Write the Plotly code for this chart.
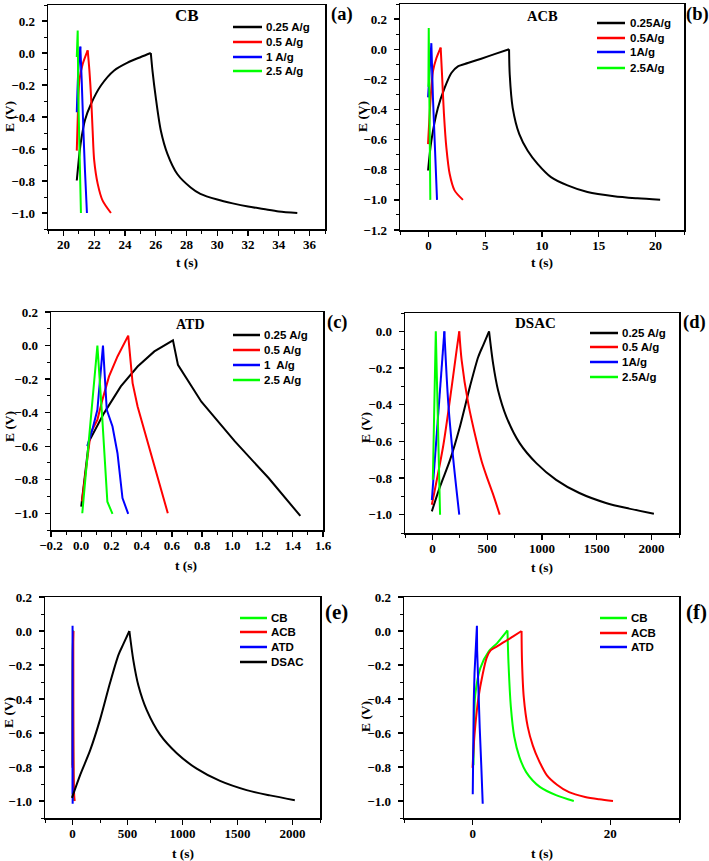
import plotly.graph_objects as go

W, H = 709, 861

# ---------------- data ----------------
# (a) CB
a_t_025 = [20.87, 21.04, 21.15, 21.4, 21.8, 22.44, 23.3, 24.17, 25.03, 25.68, 25.8, 26.0, 26.33, 26.76, 27.4, 28.27, 28.9, 30.0, 31.0, 32.0, 33.0, 34.0, 35.2]
a_E_025 = [-0.797, -0.63, -0.547, -0.42, -0.317, -0.203, -0.109, -0.06, -0.025, 0.0, -0.12, -0.276, -0.484, -0.63, -0.756, -0.84, -0.88, -0.916, -0.94, -0.96, -0.975, -0.99, -1.0]
a_t_05 = [20.87, 20.95, 21.04, 21.26, 21.58, 21.69, 21.8, 21.9, 22.0, 22.23, 22.55, 23.09]
a_E_05 = [-0.61, -0.35, -0.17, -0.067, 0.017, -0.109, -0.276, -0.484, -0.67, -0.818, -0.923, -1.0]
a_t_1 = [20.87, 20.97, 21.1, 21.19, 21.3, 21.4, 21.53]
a_E_1 = [-0.37, -0.11, 0.04, -0.17, -0.48, -0.73, -1.0]
a_t_25 = [20.87, 20.93, 20.97, 21.04, 21.1, 21.14]
a_E_25 = [-0.025, 0.14, -0.276, -0.59, -0.8, -1.0]

# (b) ACB
b_t_025 = [-0.03, 0.26, 0.84, 1.43, 2.02, 2.6, 3.47, 4.65, 5.82, 7.1, 7.16, 7.42, 8.0, 8.74, 9.61, 10.79, 12.25, 14.0, 16.34, 18.4, 20.4]
b_E_025 = [-0.805, -0.608, -0.389, -0.257, -0.158, -0.114, -0.092, -0.063, -0.033, 0.0, -0.17, -0.389, -0.564, -0.674, -0.761, -0.849, -0.904, -0.948, -0.976, -0.99, -1.0]
b_t_05 = [-0.03, 0.2, 0.4, 0.7, 1.08, 1.2, 1.37, 1.58, 1.87, 2.3, 3.04]
b_E_05 = [-0.63, -0.32, -0.147, -0.06, 0.011, -0.169, -0.432, -0.652, -0.827, -0.937, -1.0]
b_t_1 = [-0.03, 0.26, 0.4, 0.55, 0.76]
b_E_1 = [-0.32, 0.04, -0.32, -0.65, -1.0]
b_t_25 = [0.0, 0.03, 0.17]
b_E_25 = [-0.25, 0.14, -1.0]

# (c) ATD
c_t_025 = [0.0, 0.051, 0.151, 0.262, 0.373, 0.484, 0.607, 0.64, 0.795, 1.017, 1.24, 1.45]
c_E_025 = [-0.96, -0.572, -0.403, -0.244, -0.125, -0.035, 0.031, -0.115, -0.335, -0.572, -0.79, -1.016]
c_t_05 = [0.005, 0.062, 0.107, 0.14, 0.184, 0.24, 0.311, 0.34, 0.373, 0.44, 0.507, 0.573]
c_E_05 = [-0.93, -0.522, -0.443, -0.324, -0.184, -0.065, 0.059, -0.224, -0.364, -0.582, -0.801, -1.0]
c_t_1 = [0.04, 0.073, 0.107, 0.144, 0.169, 0.207, 0.24, 0.273, 0.311]
c_E_1 = [-0.6, -0.503, -0.383, 0.0, -0.383, -0.483, -0.642, -0.91, -1.004]
c_t_25 = [0.007, 0.107, 0.14, 0.173, 0.207]
c_E_25 = [-1.0, 0.0, -0.443, -0.931, -1.004]

# (d) DSAC
d_t_025 = [-5, 70, 161, 251, 342, 418, 463, 517, 554, 599, 675, 796, 948, 1129, 1341, 1583, 1795, 2021]
d_E_025 = [-0.982, -0.846, -0.701, -0.52, -0.303, -0.14, -0.076, 0.0, -0.176, -0.321, -0.466, -0.61, -0.719, -0.81, -0.882, -0.936, -0.967, -0.995]
d_t_05 = [-5, 100, 176, 221, 245, 267, 327, 403, 450, 494, 560, 614]
d_E_05 = [-0.946, -0.62, -0.303, -0.103, 0.0, -0.158, -0.393, -0.6, -0.71, -0.79, -0.9, -1.0]
d_t_1 = [-5, 109, 145, 191, 245]
d_E_1 = [-0.92, 0.0, -0.393, -0.701, -1.0]
d_t_25 = [4, 31, 70]
d_E_25 = [-0.81, 0.0, -1.0]

# (e)/(f) comparison at 0.25 A/g
f_t_cb = [0.1, 0.2, 0.35, 1.09, 2.33, 3.56, 5.05, 5.2, 5.54, 6.04, 6.78, 7.77, 9.75, 12.2, 14.7]
f_E_cb = [-0.79, -0.55, -0.38, -0.22, -0.12, -0.071, 0.003, -0.19, -0.445, -0.622, -0.74, -0.83, -0.917, -0.967, -1.0]

rate_labels_a = ["0.25 A/g", "0.5 A/g", "1 A/g", "2.5 A/g"]
rate_labels_b = ["0.25A/g", "0.5A/g", "1A/g", "2.5A/g"]
rate_labels_c = ["0.25 A/g", "0.5 A/g", "1  A/g", "2.5 A/g"]
rate_labels_d = ["0.25 A/g", "0.5 A/g", "1A/g", "2.5A/g"]
sample_labels_e = ["CB", "ACB", "ATD", "DSAC"]
sample_labels_f = ["CB", "ACB", "ATD"]

BLACK, RED, BLUE, GREEN = "#000000", "#ff0000", "#0000ff", "#00ff00"
rate_colors = [BLACK, RED, BLUE, GREEN]

# ---------------- figure ----------------
fig = go.Figure()


def xd(x0, x1):
    return [x0 / W, x1 / W]


def yd(top, bottom):
    return [1 - bottom / H, 1 - top / H]


def px(x):
    return x / W


def py(y):
    return 1 - y / H


panels = [
    dict(series=[(a_t_025, a_E_025), (a_t_05, a_E_05), (a_t_1, a_E_1), (a_t_25, a_E_25)],
         colors=rate_colors, labels=rate_labels_a, smooth=[True, True, True, False],
         xpx=(48, 325), ypx=(5, 229), xr=[19, 37], xdt=2, xt0=20, xmin=1, xfmt="d", yr=[-1.1, 0.3],
         title="CB", tpos=(187, 16), tsize=17, letter="(a)", lpos=(342, 15), lsize=18.5,
         leg=dict(x0=233, x1=262, tx=264, rows=[27, 42, 57, 71]),
         ytitle=(9, 117), xtitle=(187, 263)),
    dict(series=[(b_t_025, b_E_025), (b_t_05, b_E_05), (b_t_1, b_E_1), (b_t_25, b_E_25)],
         colors=rate_colors, labels=rate_labels_b, smooth=[True, True, False, False],
         xpx=(400, 684), ypx=(4, 230), xr=[-2.5, 22.5], xdt=5, xt0=0, xmin=2.5, xfmt="d", yr=[-1.2, 0.3],
         title="ACB", tpos=(542, 16), tsize=14.5, letter="(b)", lpos=(697, 15), lsize=18.5,
         leg=dict(x0=597, x1=625, tx=628, rows=[23, 38, 52, 68]),
         ytitle=(362, 117), xtitle=(542, 263)),
    dict(series=[(c_t_025, c_E_025), (c_t_05, c_E_05), (c_t_1, c_E_1), (c_t_25, c_E_25)],
         colors=rate_colors, labels=rate_labels_c, smooth=[False, False, False, False],
         xpx=(51, 323), ypx=(312, 530), xr=[-0.2, 1.6], xdt=0.2, xt0=0, xmin=0.1, xfmt=".1f", yr=[-1.1, 0.2],
         title="ATD", tpos=(190, 324), tsize=14, letter="(c)", lpos=(337, 322), lsize=18.5,
         leg=dict(x0=233, x1=260, tx=262, rows=[335, 350, 365, 380]),
         ytitle=(10, 427), xtitle=(186, 565)),
    dict(series=[(d_t_025, d_E_025), (d_t_05, d_E_05), (d_t_1, d_E_1), (d_t_25, d_E_25)],
         colors=rate_colors, labels=rate_labels_d, smooth=[True, True, True, False],
         xpx=(405, 679), ypx=(313, 533), xr=[-250, 2250], xdt=500, xt0=0, xmin=250, xfmt="d", yr=[-1.1, 0.1],
         title="DSAC", tpos=(535, 323), tsize=15, letter="(d)", lpos=(694, 322), lsize=18.5,
         leg=dict(x0=590, x1=618, tx=620, rows=[333, 347, 362, 377]),
         ytitle=(365, 428), xtitle=(542, 567)),
    dict(series=[(f_t_cb, f_E_cb), (b_t_025, b_E_025), (c_t_025, c_E_025), (d_t_025, d_E_025)],
         colors=[GREEN, RED, BLUE, BLACK], labels=sample_labels_e, smooth=[True, True, False, True],
         xpx=(45, 320), ypx=(597, 818), xr=[-250, 2250], xdt=500, xt0=0, xmin=250, xfmt="d", yr=[-1.1, 0.2],
         title=None, tpos=None, tsize=None, letter="(e)", lpos=(336, 612), lsize=21,
         leg=dict(x0=240, x1=267, tx=269, rows=[618, 632, 647, 662]),
         ytitle=(8, 713), xtitle=(183, 853)),
    dict(series=[(f_t_cb, f_E_cb), (b_t_025, b_E_025), (c_t_025, c_E_025)],
         colors=[GREEN, RED, BLUE], labels=sample_labels_f, smooth=[True, True, False],
         xpx=(404, 679), ypx=(597, 818), xr=[-10, 30], xdt=20, xt0=0, xmin=10, xfmt="d", yr=[-1.1, 0.2],
         title=None, tpos=None, tsize=None, letter="(f)", lpos=(696, 612), lsize=21,
         leg=dict(x0=600, x1=627, tx=629, rows=[618, 633, 647]),
         ytitle=(365, 717), xtitle=(542, 853)),
]

SERIF = "Liberation Serif"
SANS = "Liberation Sans"

annotations = []
shapes = []
layout_axes = {}


def add_curve(t, e, col, xa, ya, smooth):
    if not smooth:
        fig.add_trace(go.Scatter(x=t, y=e, mode="lines", line=dict(color=col, width=2),
                                 xaxis=xa, yaxis=ya, showlegend=False, hoverinfo="skip"))
        return
    # split at the turning point (maximum potential) so each branch is smoothed separately
    k = max(range(len(e)), key=lambda j: e[j])
    for seg in (slice(0, k + 1), slice(k, len(e))):
        ts, es = t[seg], e[seg]
        if len(ts) < 2:
            continue
        fig.add_trace(go.Scatter(x=ts, y=es, mode="lines",
                                 line=dict(color=col, width=2, shape="spline", smoothing=0.8),
                                 xaxis=xa, yaxis=ya, showlegend=False, hoverinfo="skip"))


for i, p in enumerate(panels, start=1):
    xa = "x" if i == 1 else f"x{i}"
    ya = "y" if i == 1 else f"y{i}"
    for (t, e), col, sm in zip(p["series"], p["colors"], p["smooth"]):
        add_curve(t, e, col, xa, ya, sm)
    common = dict(showline=True, linecolor="black", linewidth=1.5, mirror=True,
                  ticks="outside", ticklen=5, tickwidth=1.3, tickcolor="black",
                  showgrid=False, zeroline=False, automargin=False,
                  tickfont=dict(family=SERIF, size=13, color="black", weight="bold"),
                  minor=dict(ticks="outside", ticklen=3, tickwidth=1, tickcolor="black", showgrid=False))
    xkey = "xaxis" if i == 1 else f"xaxis{i}"
    ykey = "yaxis" if i == 1 else f"yaxis{i}"
    xcfg = dict(common)
    xcfg.update(domain=xd(*p["xpx"]), range=p["xr"], tick0=p["xt0"], dtick=p["xdt"],
                anchor=ya, tickformat=p["xfmt"], ticklabelstandoff=-2)
    xcfg["minor"] = dict(common["minor"], dtick=p["xmin"], tick0=p["xt0"])
    ycfg = dict(common)
    ycfg.update(domain=yd(*p["ypx"]), range=p["yr"], tick0=0, dtick=0.2, anchor=xa,
                tickformat=".1f", ticklabelstandoff=4)
    ycfg["minor"] = dict(common["minor"], dtick=0.1, tick0=0)
    layout_axes[xkey] = xcfg
    layout_axes[ykey] = ycfg

    annotations.append(dict(text="<b>E (V)</b>", x=px(p["ytitle"][0]), y=py(p["ytitle"][1]),
                            xref="paper", yref="paper", showarrow=False, textangle=-90,
                            xanchor="center", yanchor="middle",
                            font=dict(family=SERIF, size=13.5, color="black")))
    annotations.append(dict(text="<b>t (s)</b>", x=px(p["xtitle"][0]), y=py(p["xtitle"][1]),
                            xref="paper", yref="paper", showarrow=False,
                            xanchor="center", yanchor="middle",
                            font=dict(family=SERIF, size=13.5, color="black")))
    if p["title"]:
        annotations.append(dict(text=f"<b>{p['title']}</b>", x=px(p["tpos"][0]), y=py(p["tpos"][1]),
                                xref="paper", yref="paper", showarrow=False,
                                xanchor="center", yanchor="middle",
                                font=dict(family=SERIF, size=p["tsize"], color="black")))
    annotations.append(dict(text=f"<b>{p['letter']}</b>", x=px(p["lpos"][0]), y=py(p["lpos"][1]),
                            xref="paper", yref="paper", showarrow=False,
                            xanchor="center", yanchor="middle",
                            font=dict(family=SERIF, size=p["lsize"], color="black")))
    lg = p["leg"]
    for lab, col, row in zip(p["labels"], p["colors"], lg["rows"]):
        shapes.append(dict(type="line", xref="paper", yref="paper",
                           x0=px(lg["x0"]), x1=px(lg["x1"]), y0=py(row), y1=py(row),
                           line=dict(color=col, width=2.5)))
        annotations.append(dict(text=f"<b>{lab}</b>", x=px(lg["tx"]), y=py(row),
                                xref="paper", yref="paper", showarrow=False,
                                xanchor="left", yanchor="middle",
                                font=dict(family=SANS, size=11.5, color="black")))

fig.update_layout(width=W, height=H, autosize=False,
                  margin=dict(l=0, r=0, t=0, b=0),
                  paper_bgcolor="white", plot_bgcolor="white",
                  showlegend=False, annotations=annotations, shapes=shapes,
                  **layout_axes)

fig.write_html("out.html", config={"displayModeBar": False, "staticPlot": True},
               post_script="document.body.style.margin='0px';document.body.style.overflow='hidden';")
